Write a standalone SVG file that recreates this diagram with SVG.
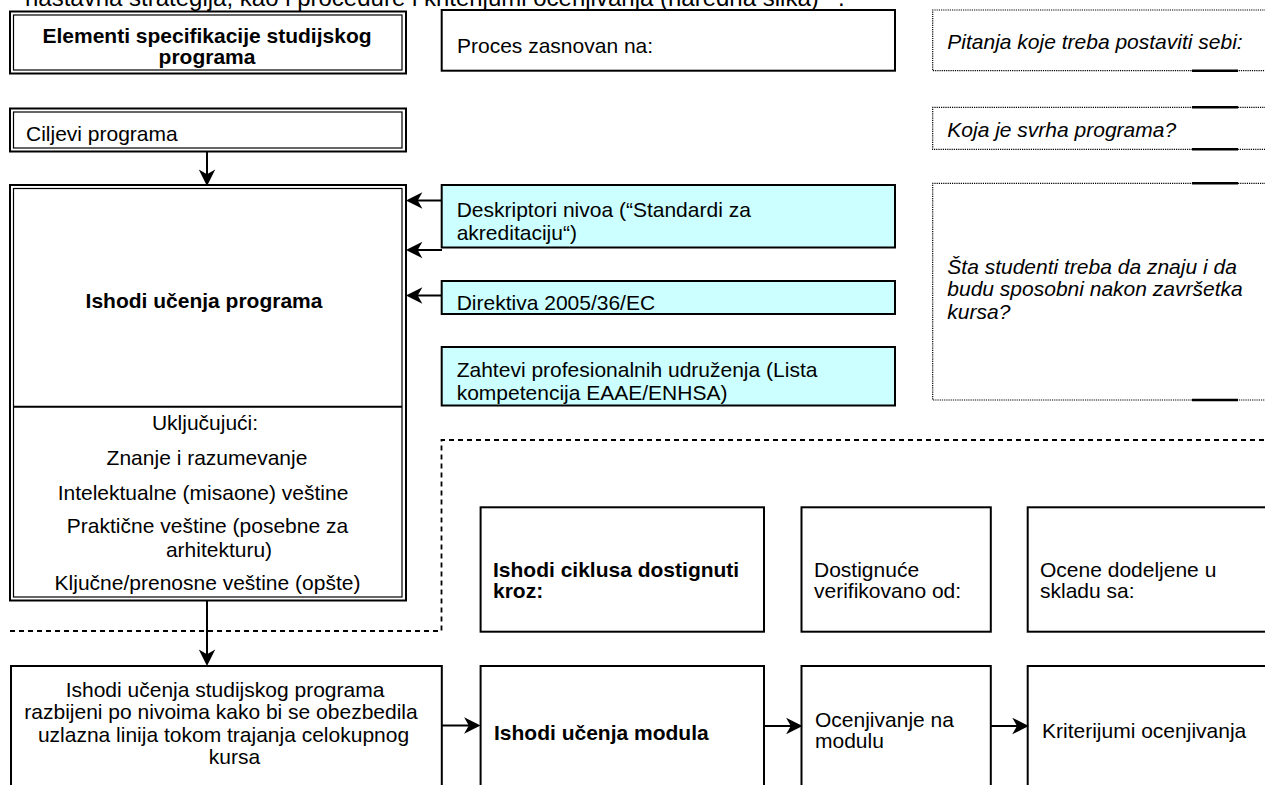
<svg xmlns="http://www.w3.org/2000/svg" width="1265" height="785" viewBox="0 0 1265 785">
<defs>
<style>
.t{font-family:"Liberation Sans",Arial,sans-serif;font-size:21px;fill:#000}
.b{font-weight:bold}
.i{font-style:italic}
.m{text-anchor:middle}
.box{fill:#fff;stroke:#000;stroke-width:2}
.blue{fill:#ccffff;stroke:#000;stroke-width:2}
.dblo{fill:#fff;stroke:#000;stroke-width:2}
.dbli{fill:none;stroke:#000;stroke-width:1.2}
.dot{fill:none;stroke:#000;stroke-width:1.2;stroke-dasharray:1.2 1}
.seg{stroke:#000;stroke-width:2.5}
.dash{fill:none;stroke:#000;stroke-width:1.8;stroke-dasharray:5 4}
.conn{fill:none;stroke:#000;stroke-width:2}
</style>
<marker id="ah" markerUnits="userSpaceOnUse" markerWidth="20" markerHeight="20" viewBox="-15 -8 17 16" refX="-6" refY="0" orient="auto">
<path d="M0,0 L-14,-7 L-10,0 L-14,7 Z" fill="#000"/>
</marker>
</defs>
<rect width="1265" height="785" fill="#fff"/>

<text class="t" x="25" y="6" style="font-size:24px">nastavna strategija, kao i procedure i kriterijumi ocenjivanja (naredna slika)<tspan style="font-size:15px" dy="-9">1</tspan><tspan dy="9" x="838">.</tspan></text>

<g id="region">
<path class="dash" d="M10,631 H441.5 V440 H1266"/>
</g>

<g id="elementi">
<rect class="dblo" x="10" y="11.5" width="396" height="62"/>
<rect class="dbli" x="13.5" y="15" width="388.5" height="55"/>
<text class="t b m" x="207" y="43">Elementi specifikacije studijskog</text>
<text class="t b m" x="207" y="64">programa</text>
</g>

<g id="proces">
<rect class="box" x="441.7" y="10" width="453.3" height="60.7"/>
<text class="t" x="457" y="52.7">Proces zasnovan na:</text>
</g>

<g id="pitanja">
<path class="dot" d="M1270,10 H932.7 V70.7 H1270"/>
<line class="seg" x1="1192" y1="70.7" x2="1238" y2="70.7"/>
<text class="t i" x="947.3" y="49">Pitanja koje treba postaviti sebi:</text>
</g>

<g id="ciljevi">
<rect class="dblo" x="10" y="108.5" width="396" height="43"/>
<rect class="dbli" x="13.5" y="112" width="388.5" height="36"/>
<text class="t" x="26" y="140.7">Ciljevi programa</text>
</g>

<g id="koja">
<path class="dot" d="M1270,107.3 H932.7 V149.3 H1270"/>
<line class="seg" x1="1192" y1="107.3" x2="1238" y2="107.3"/>
<line class="seg" x1="1192" y1="149.3" x2="1238" y2="149.3"/>
<text class="t i" x="947.3" y="136.7">Koja je svrha programa?</text>
</g>

<g id="ishodi-programa">
<rect class="dblo" x="10" y="185" width="396" height="415.5"/>
<rect class="dbli" x="13.5" y="188.5" width="388.5" height="408.5"/>
<line x1="13.5" y1="406.7" x2="402" y2="406.7" stroke="#000" stroke-width="2"/>
<text class="t b m" x="204" y="307.7">Ishodi učenja programa</text>
<text class="t m" x="205" y="430">Uključujući:</text>
<text class="t m" x="207" y="465">Znanje i razumevanje</text>
<text class="t m" x="203" y="499.5">Intelektualne (misaone) veštine</text>
<text class="t m" x="207.5" y="533">Praktične veštine (posebne za</text>
<text class="t m" x="219" y="557">arhitekturu)</text>
<text class="t m" x="207.5" y="590">Ključne/prenosne veštine (opšte)</text>
</g>

<g id="deskriptori">
<rect class="blue" x="441.7" y="185" width="453.3" height="62.5"/>
<text class="t" x="456.7" y="216.5">Deskriptori nivoa (“Standardi za</text>
<text class="t" x="456.7" y="240">akreditaciju“)</text>
</g>

<g id="direktiva">
<rect class="blue" x="441.7" y="281" width="453.3" height="33"/>
<text class="t" x="456.7" y="309.5">Direktiva 2005/36/EC</text>
</g>

<g id="zahtevi">
<rect class="blue" x="441.7" y="347" width="453.3" height="58.5"/>
<text class="t" x="456.7" y="377">Zahtevi profesionalnih udruženja (Lista</text>
<text class="t" x="456.7" y="400">kompetencija EAAE/ENHSA)</text>
</g>

<g id="sta">
<path class="dot" d="M1270,183.3 H932.7 V400 H1270"/>
<line class="seg" x1="1192" y1="183.3" x2="1238" y2="183.3"/>
<line class="seg" x1="1192" y1="400" x2="1238" y2="400"/>
<text class="t i" x="947.3" y="273.5">Šta studenti treba da znaju i da</text>
<text class="t i" x="947.3" y="296">budu sposobni nakon završetka</text>
<text class="t i" x="947.3" y="318.5">kursa?</text>
</g>

<g id="ciklus">
<rect class="box" x="480.6" y="507.3" width="283.4" height="124.4"/>
<text class="t b" x="493" y="576.7">Ishodi ciklusa dostignuti</text>
<text class="t b" x="493" y="598.3">kroz:</text>
</g>

<g id="dostignuce">
<rect class="box" x="801.5" y="507.3" width="189.3" height="124.4"/>
<text class="t" x="814" y="576.7">Dostignuće</text>
<text class="t" x="814" y="598.3">verifikovano od:</text>
</g>

<g id="ocene">
<rect class="box" x="1027.7" y="507.3" width="245" height="124.4"/>
<text class="t" x="1040" y="576.7">Ocene dodeljene u</text>
<text class="t" x="1040" y="598.3">skladu sa:</text>
</g>

<g id="ishodi-studijskog">
<rect class="box" x="11" y="666" width="430.8" height="130"/>
<text class="t m" x="225" y="696.7">Ishodi učenja studijskog programa</text>
<text class="t m" x="221" y="719.3">razbijeni po nivoima kako bi se obezbedila</text>
<text class="t m" x="223.5" y="741.7">uzlazna linija tokom trajanja celokupnog</text>
<text class="t m" x="234.5" y="764">kursa</text>
</g>

<g id="ishodi-modula">
<rect class="box" x="480.6" y="666" width="283.4" height="130"/>
<text class="t b" x="494" y="739.5">Ishodi učenja modula</text>
</g>

<g id="ocenjivanje">
<rect class="box" x="801.5" y="666" width="189.3" height="130"/>
<text class="t" x="815" y="726.7">Ocenjivanje na</text>
<text class="t" x="815" y="748.3">modulu</text>
</g>

<g id="kriterijumi">
<rect class="box" x="1027.7" y="666" width="245" height="130"/>
<text class="t" x="1042" y="738.3">Kriterijumi ocenjivanja</text>
</g>

<g id="connectors">
<line class="conn" x1="207" y1="152" x2="207" y2="179" marker-end="url(#ah)"/>
<line class="conn" x1="442" y1="200.5" x2="413" y2="200.5" marker-end="url(#ah)"/>
<line class="conn" x1="442" y1="250" x2="413" y2="250" marker-end="url(#ah)"/>
<line class="conn" x1="442" y1="295.5" x2="413" y2="295.5" marker-end="url(#ah)"/>
<line class="conn" x1="207" y1="601" x2="207" y2="659" marker-end="url(#ah)"/>
<line class="conn" x1="442" y1="725.5" x2="473.5" y2="725.5" marker-end="url(#ah)"/>
<line class="conn" x1="764" y1="726" x2="795.5" y2="726" marker-end="url(#ah)"/>
<line class="conn" x1="991" y1="726" x2="1021.7" y2="726" marker-end="url(#ah)"/>
</g>
</svg>
